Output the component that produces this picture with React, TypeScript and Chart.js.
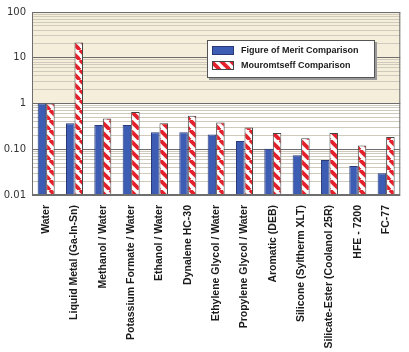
import React, { useEffect, useRef } from "react";
import { Chart, registerables } from "chart.js";

Chart.register(...registerables);

const categories = [
  "Water",
  "Liquid Metal (Ga-In-Sn)",
  "Methanol / Water",
  "Potassium Formate / Water",
  "Ethanol / Water",
  "Dynalene HC-30",
  "Ethylene Glycol / Water",
  "Propylene Glycol / Water",
  "Aromatic (DEB)",
  "Silicone (Syltherm XLT)",
  "Silicate-Ester (Coolanol 25R)",
  "HFE - 7200",
  "FC-77",
];

const figureOfMerit = [1, 0.37, 0.34, 0.34, 0.235, 0.235, 0.21, 0.152, 0.103, 0.074, 0.058, 0.043, 0.03];
const mouromtseff = [1, 21.5, 0.47, 0.65, 0.37, 0.54, 0.385, 0.3, 0.226, 0.174, 0.226, 0.121, 0.186];

const seriesNames = ["Figure of Merit Comparison", "Mouromtseff Comparison"];
const yTickLabels: Record<string, string> = { "100": "100", "10": "10", "1": "1", "0.1": "0.10", "0.01": "0.01" };

const BLUE = "#3d5cb3";
const RED = "#e3202b";

function makeStripe(): CanvasPattern | string {
  const s = 10;
  const c = document.createElement("canvas");
  c.width = s;
  c.height = s;
  const g = c.getContext("2d");
  if (!g) return RED;
  g.fillStyle = "#ffffff";
  g.fillRect(0, 0, s, s);
  g.strokeStyle = RED;
  g.lineWidth = 3.8;
  for (const k of [-s, 0, s]) {
    g.beginPath();
    g.moveTo(k, 0);
    g.lineTo(k + s, s);
    g.stroke();
  }
  const p = g.createPattern(c, "repeat");
  return p || RED;
}

export default function App() {
  const ref = useRef<HTMLCanvasElement>(null);
  useEffect(() => {
    if (!ref.current) return;
    const stripe = makeStripe();

    const bgPlugin = {
      id: "bg",
      beforeDraw(chart: any) {
        const { ctx, chartArea, scales } = chart;
        const y = scales.y;
        const yTop = y.getPixelForValue(100);
        const yOne = y.getPixelForValue(1);
        ctx.save();
        ctx.fillStyle = "#ffffff";
        ctx.fillRect(chartArea.left, chartArea.top, chartArea.right - chartArea.left, chartArea.bottom - chartArea.top);
        ctx.fillStyle = "#f4eedb";
        ctx.fillRect(chartArea.left, yTop, chartArea.right - chartArea.left, yOne - yTop);
        ctx.restore();
      },
      afterDraw(chart: any) {
        const { ctx, chartArea } = chart;
        ctx.save();
        ctx.strokeStyle = "#6e6e6e";
        ctx.lineWidth = 1;
        ctx.strokeRect(chartArea.left + 0.5, chartArea.top + 0.5, chartArea.right - chartArea.left - 1, chartArea.bottom - chartArea.top - 1);
        // legend
        const lx = 207, ly = 40, lw = 168, lh = 38;
        ctx.fillStyle = "#9a9a9a";
        ctx.fillRect(lx + 2, ly + 2, lw, lh);
        ctx.fillStyle = "#ffffff";
        ctx.fillRect(lx, ly, lw, lh);
        ctx.strokeStyle = "#555555";
        ctx.strokeRect(lx + 0.5, ly + 0.5, lw - 1, lh - 1);
        const fills = [BLUE, stripe];
        const borders = ["#2a3a78", "#444444"];
        ctx.font = "bold 9px 'Liberation Sans', Arial, sans-serif";
        ctx.textBaseline = "middle";
        for (let i = 0; i < 2; i++) {
          const iy = ly + 6 + i * 15;
          ctx.fillStyle = fills[i] as any;
          ctx.fillRect(lx + 5, iy, 22, 9);
          ctx.strokeStyle = borders[i];
          ctx.strokeRect(lx + 5.5, iy + 0.5, 21, 8);
          ctx.fillStyle = "#1a1a1a";
          ctx.fillText(seriesNames[i], lx + 34, iy + 5);
        }
        ctx.restore();
      },
    };

    const yTicks: number[] = [];
    for (let e = -2; e <= 1; e++) {
      for (let m = 1; m <= 9; m++) yTicks.push(parseFloat((m * Math.pow(10, e)).toPrecision(3)));
    }
    yTicks.push(100);

    const isMajor = (v: number) => Math.abs(Math.log10(v) - Math.round(Math.log10(v))) < 1e-6;

    const chart = new Chart(ref.current, {
      type: "bar",
      data: {
        labels: categories,
        datasets: [
          {
            label: seriesNames[0],
            data: figureOfMerit,
            backgroundColor: BLUE,
            borderColor: "#2a3a78",
            borderWidth: 1,
            borderSkipped: false,
          },
          {
            label: seriesNames[1],
            data: mouromtseff,
            backgroundColor: stripe as any,
            borderColor: "#444444",
            borderWidth: 1,
            borderSkipped: false,
          },
        ],
      },
      options: {
        animation: false,
        responsive: false,
        maintainAspectRatio: false,
        layout: { padding: { top: 10, right: 7, left: 0, bottom: 0 } },
        datasets: { bar: { categoryPercentage: 0.6, barPercentage: 1.0 } } as any,
        plugins: {
          legend: { display: false },
          tooltip: { enabled: false },
        },
        scales: {
          x: {
            grid: { display: false, drawTicks: false },
            border: { display: false },
            ticks: {
              minRotation: 90,
              maxRotation: 90,
              autoSkip: false,
              padding: 10,
              color: "#1a1a1a",
              font: { family: "'Liberation Sans', Arial, sans-serif", size: 10.5, weight: "bold" },
            },
            afterFit(scale: any) {
              scale.height = 157;
            },
          },
          y: {
            type: "logarithmic",
            min: 0.01,
            max: 100,
            afterBuildTicks(scale: any) {
              scale.ticks = yTicks.map((v) => ({ value: v, major: isMajor(v) }));
            },
            afterFit(scale: any) {
              scale.width = 32;
            },
            border: { display: false },
            grid: {
              drawTicks: false,
              color: (ctx: any) => (isMajor(ctx.tick.value) ? "#6e6e6e" : "#cfcabb"),
              lineWidth: 1,
            },
            ticks: {
              autoSkip: false,
              padding: 6,
              color: "#333333",
              font: { family: "'DejaVu Sans', Verdana, sans-serif", size: 10 },
              callback: (v: any) => {
                const key = String(parseFloat(Number(v).toPrecision(3)));
                return yTickLabels[key] ?? "";
              },
            },
          },
        },
      },
      plugins: [bgPlugin],
    });
    return () => chart.destroy();
  }, []);
  return (
    <div style={{ position: "absolute", left: 0, top: 0, width: 409, height: 352, background: "#fff" }}>
      <canvas ref={ref} width={409} height={352} style={{ width: 409, height: 352, display: "block" }} />
    </div>
  );
}
